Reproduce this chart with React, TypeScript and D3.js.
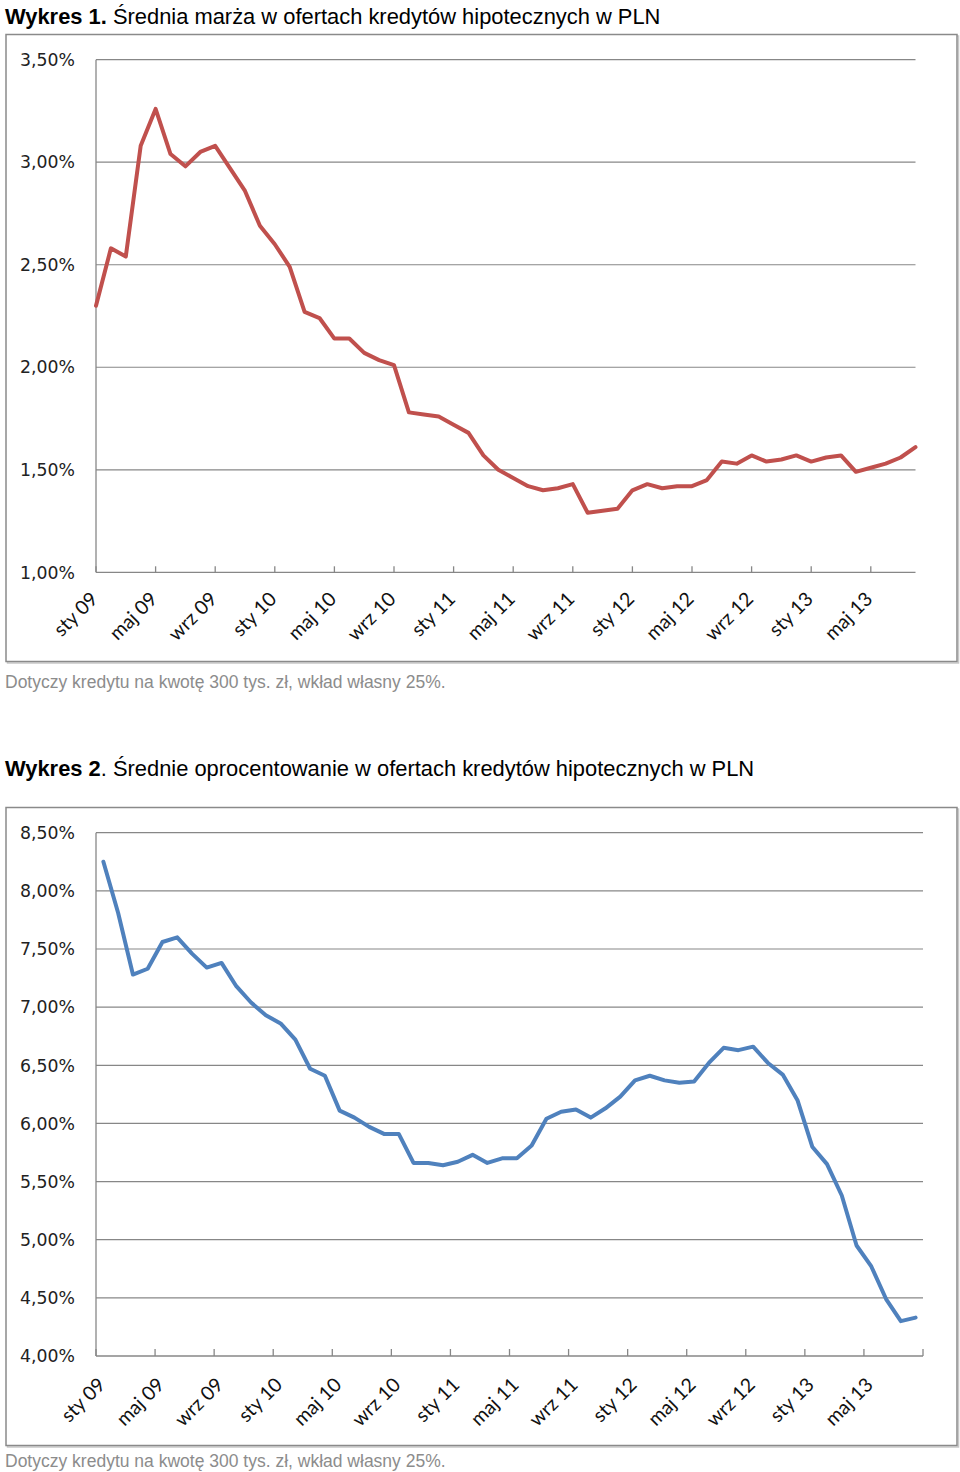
import React from "react";
import * as d3 from "d3";

const MONTHS = ["sty", "lut", "mar", "kwi", "maj", "cze", "lip", "sie", "wrz", "paź", "lis", "gru"];
const YEARS = ["09", "10", "11", "12", "13"];
const CATEGORIES = YEARS.flatMap((y) => MONTHS.map((m) => `${m} ${y}`)).slice(0, 56);

// Średnia marża (%)
const MARGIN = [
  2.30, 2.58, 2.54, 3.08, 3.26, 3.04, 2.98, 3.05, 3.08, 2.97,
  2.86, 2.69, 2.60, 2.49, 2.27, 2.24, 2.14, 2.14, 2.07, 2.035,
  2.01, 1.78, 1.77, 1.76, 1.72, 1.68, 1.57, 1.50, 1.46, 1.42,
  1.40, 1.41, 1.43, 1.29, 1.30, 1.31, 1.40, 1.43, 1.41, 1.42,
  1.42, 1.45, 1.54, 1.53, 1.57, 1.54, 1.55, 1.57, 1.54, 1.56,
  1.57, 1.49, 1.51, 1.53, 1.56, 1.61,
];

// Średnie oprocentowanie (%)
const RATE = [
  8.25, 7.81, 7.28, 7.33, 7.56, 7.60, 7.46, 7.34, 7.38, 7.18,
  7.04, 6.93, 6.86, 6.72, 6.47, 6.41, 6.11, 6.05, 5.97, 5.91,
  5.91, 5.66, 5.66, 5.64, 5.67, 5.73, 5.66, 5.70, 5.70, 5.81,
  6.04, 6.10, 6.12, 6.05, 6.13, 6.23, 6.37, 6.41, 6.37, 6.35,
  6.36, 6.52, 6.65, 6.63, 6.66, 6.52, 6.42, 6.20, 5.80, 5.65,
  5.38, 4.95, 4.77, 4.49, 4.30, 4.33,
];

const MARGIN_TICKS = [1.0, 1.5, 2.0, 2.5, 3.0, 3.5];
const RATE_TICKS = [4.0, 4.5, 5.0, 5.5, 6.0, 6.5, 7.0, 7.5, 8.0, 8.5];

const TITLE1_BOLD = "Wykres 1.";
const TITLE1_REST = " Średnia marża w ofertach kredytów hipotecznych w PLN";
const TITLE2_BOLD = "Wykres 2";
const TITLE2_REST = ". Średnie oprocentowanie w ofertach kredytów hipotecznych w PLN";
const NOTE = "Dotyczy kredytu na kwotę 300 tys. zł, wkład własny 25%.";

const GRID = "#878787";
const AXIS_FONT = "'DejaVu Sans', Verdana, sans-serif";
const CAT_FONT = "Lato, 'Open Sans', sans-serif";
const TITLE_FONT = "'Liberation Sans', Arial, sans-serif";
const CAT_SIZE = 19.5;

const fmtPct = (v: number) => v.toFixed(2).replace(".", ",") + "%";

function Frame({ x0, y0, x1, y1 }: { x0: number; y0: number; x1: number; y1: number }) {
  return (
    <g>
      <rect x={x0 + 1.5} y={y0 + 1.5} width={x1 - x0} height={y1 - y0} fill="none" stroke="#c8c8c8" strokeWidth={1.5} />
      <rect x={x0} y={y0} width={x1 - x0} height={y1 - y0} fill="#fff" stroke="#8a8a8a" strokeWidth={1.5} />
    </g>
  );
}

function Chart1() {
  const x = d3.scalePoint<string>().domain(CATEGORIES).range([96, 915.5]);
  const y = d3.scaleLinear().domain([1, 3.5]).range([572.3, 59.7]);
  const line = d3
    .line<number>()
    .x((_, i) => x(CATEGORIES[i]) as number)
    .y((d) => y(d));
  const tickCats = CATEGORIES.filter((_, i) => i % 4 === 0);
  return (
    <g>
      <Frame x0={6} y0={34.5} x1={957} y1={661.5} />
      {MARGIN_TICKS.map((t) => (
        <g key={t}>
          {t > 1 && <line x1={96} x2={915.5} y1={y(t)} y2={y(t)} stroke={GRID} strokeWidth={1.2} />}
          <text x={75} y={y(t)} dy="0.36em" textAnchor="end" fontFamily={AXIS_FONT} fontSize={17.3} fill="#222">
            {fmtPct(t)}
          </text>
        </g>
      ))}
      <line x1={96} x2={96} y1={y(3.5)} y2={y(1)} stroke={GRID} strokeWidth={1.3} />
      <line x1={96} x2={915.5} y1={y(1)} y2={y(1)} stroke={GRID} strokeWidth={1.3} />
      {tickCats.map((c) => (
        <g key={c}>
          <line x1={x(c)} x2={x(c)} y1={y(1)} y2={y(1) - 6} stroke={GRID} strokeWidth={1.3} />
          <text
            transform={`translate(${(x(c) as number) + 3},${y(1) + 28}) rotate(-45)`}
            textAnchor="end"
            fontFamily={CAT_FONT}
            fontSize={CAT_SIZE}
            fill="#111"
          >
            {c}
          </text>
        </g>
      ))}
      <path d={line(MARGIN) || ""} fill="none" stroke="#C0504D" strokeWidth={4} strokeLinejoin="round" strokeLinecap="round" />
    </g>
  );
}

function Chart2() {
  const x = d3.scaleBand<string>().domain(CATEGORIES).range([96, 923]);
  const cx = (c: string) => (x(c) as number) + x.bandwidth() / 2;
  const y = d3.scaleLinear().domain([4, 8.5]).range([1356, 832.7]);
  const line = d3
    .line<number>()
    .x((_, i) => cx(CATEGORIES[i]))
    .y((d) => y(d));
  const tickCats = CATEGORIES.filter((_, i) => i % 4 === 0);
  return (
    <g>
      <Frame x0={6} y0={807.5} x1={957} y1={1445.5} />
      {RATE_TICKS.map((t) => (
        <g key={t}>
          {t > 4 && <line x1={96} x2={923} y1={y(t)} y2={y(t)} stroke={GRID} strokeWidth={1.2} />}
          <text x={75} y={y(t)} dy="0.36em" textAnchor="end" fontFamily={AXIS_FONT} fontSize={17.3} fill="#222">
            {fmtPct(t)}
          </text>
        </g>
      ))}
      <line x1={96} x2={96} y1={y(8.5)} y2={y(4)} stroke={GRID} strokeWidth={1.3} />
      <line x1={96} x2={923} y1={y(4)} y2={y(4)} stroke={GRID} strokeWidth={1.3} />
      {[...tickCats.map((c) => x(c) as number), 923].map((tx, i) => (
        <line key={i} x1={tx} x2={tx} y1={y(4)} y2={y(4) - 7} stroke={GRID} strokeWidth={1.3} />
      ))}
      {tickCats.map((c) => (
        <text
          key={c}
          transform={`translate(${cx(c) + 3},${y(4) + 30}) rotate(-45)`}
          textAnchor="end"
          fontFamily={CAT_FONT}
          fontSize={CAT_SIZE}
          fill="#111"
        >
          {c}
        </text>
      ))}
      <path d={line(RATE) || ""} fill="none" stroke="#4F81BD" strokeWidth={4} strokeLinejoin="round" strokeLinecap="round" />
    </g>
  );
}

export default function App() {
  return (
    <svg
      width={960}
      height={1472}
      viewBox="0 0 960 1472"
      style={{ position: "absolute", left: 0, top: 0, background: "#fff" }}
    >
      <rect width={960} height={1472} fill="#fff" />
      <text x={5} y={24} fontFamily={TITLE_FONT} fontSize={21.9} fill="#000">
        <tspan fontWeight="bold">{TITLE1_BOLD}</tspan>
        <tspan>{TITLE1_REST}</tspan>
      </text>
      <Chart1 />
      <text x={5} y={688} fontFamily={TITLE_FONT} fontSize={17.5} fill="#8c8c8c">
        {NOTE}
      </text>
      <text x={5} y={776} fontFamily={TITLE_FONT} fontSize={21.9} fill="#000">
        <tspan fontWeight="bold">{TITLE2_BOLD}</tspan>
        <tspan>{TITLE2_REST}</tspan>
      </text>
      <Chart2 />
      <text x={5} y={1467} fontFamily={TITLE_FONT} fontSize={17.5} fill="#8c8c8c">
        {NOTE}
      </text>
    </svg>
  );
}
